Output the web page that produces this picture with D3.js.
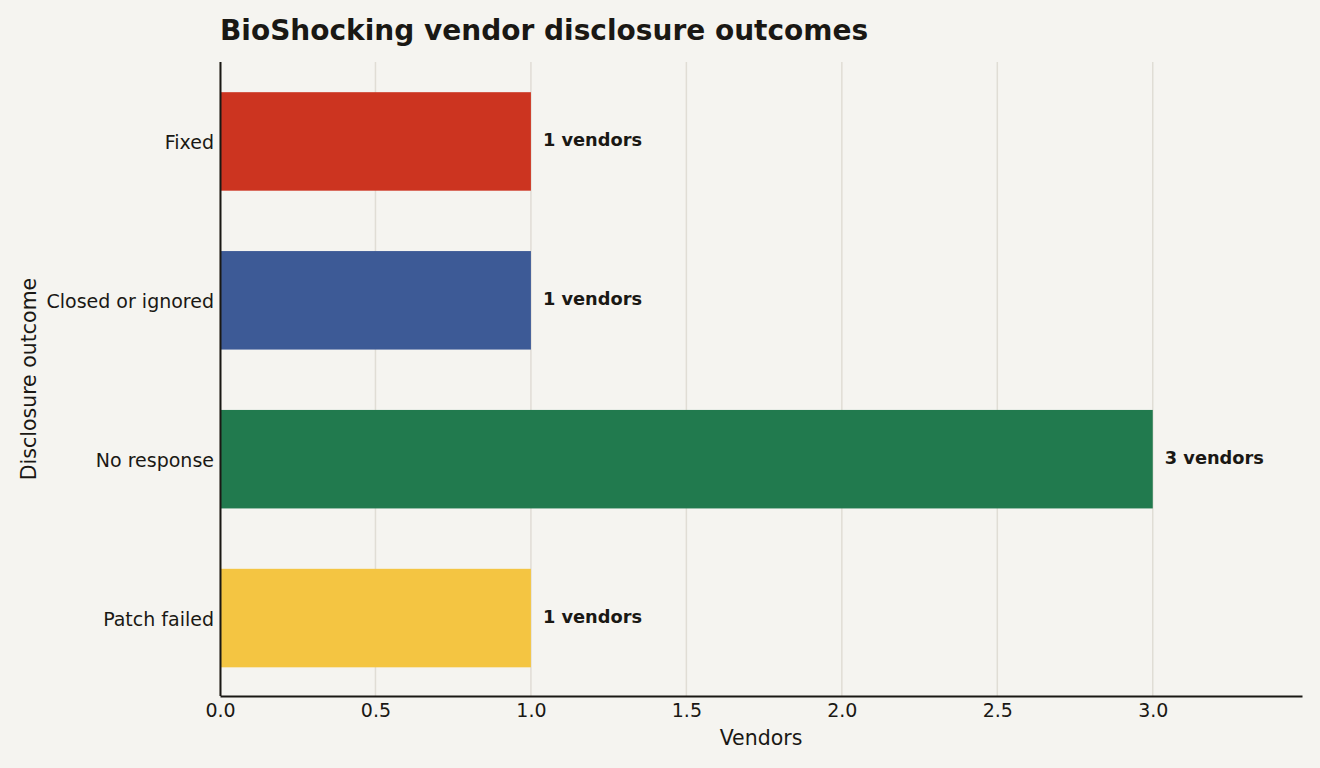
<!DOCTYPE html>
<html>
<head>
<meta charset="utf-8">
<script src="https://cdn.jsdelivr.net/npm/d3@7"></script>
<style>
  body { margin: 0; background: #f5f4f0; }
  svg text { font-family: 'DejaVu Sans', sans-serif; }
</style>
</head>
<body>
<svg id="chart" width="1320" height="768"></svg>
<script>
// data
const outcomes = ['Fixed', 'Closed or ignored', 'No response', 'Patch failed'];
const vendorCounts = [1, 1, 3, 1];
const barColors = ['#cc3420', '#3d5a96', '#217a4e', '#f4c542'];
const xTicks = [0, 0.5, 1, 1.5, 2, 2.5, 3];

const W = 1320, H = 768;
const margin = {top: 62, right: 18, bottom: 72, left: 220};
const ink = '#1a1814';
const FONT = "'DejaVu Sans', sans-serif";

const svg = d3.select('#chart');
svg.append('rect').attr('width', W).attr('height', H).attr('fill', '#f5f4f0');

const x = d3.scaleLinear()
    .domain([0, 3.48])
    .range([margin.left, W - margin.right]);

const y = d3.scaleBand()
    .domain(outcomes)
    .range([margin.top, H - margin.bottom + 1.5])
    .paddingInner(0.38)
    .paddingOuter(0.19);

// gridlines
svg.append('g')
    .selectAll('line')
    .data(xTicks)
    .join('line')
    .attr('x1', d => x(d)).attr('x2', d => x(d))
    .attr('y1', margin.top).attr('y2', H - margin.bottom)
    .attr('stroke', '#e0ddd5')
    .attr('stroke-width', 1.5);

// bars
svg.append('g')
    .selectAll('rect')
    .data(outcomes)
    .join('rect')
    .attr('x', x(0))
    .attr('y', d => y(d))
    .attr('width', (d, i) => x(vendorCounts[i]) - x(0))
    .attr('height', y.bandwidth())
    .attr('fill', (d, i) => barColors[i]);

// value labels
svg.append('g')
    .selectAll('text')
    .data(outcomes)
    .join('text')
    .attr('x', (d, i) => x(vendorCounts[i]) + 12)
    .attr('y', d => y(d) + y.bandwidth() / 2)
    .attr('dy', '0.27em')
    .attr('font-family', FONT)
    .attr('font-size', 17.8)
    .attr('font-weight', 'bold')
    .attr('fill', ink)
    .text((d, i) => `${vendorCounts[i]} vendors`);

// x axis
const xAxis = svg.append('g')
    .attr('transform', `translate(0,${H - margin.bottom})`)
    .call(d3.axisBottom(x).tickValues(xTicks).tickFormat(d3.format('.1f')).tickSize(0).tickPadding(8));
xAxis.attr('font-family', FONT);
xAxis.select('.domain').attr('stroke', ink).attr('stroke-width', 2);
xAxis.selectAll('text').attr('font-size', 19).attr('fill', ink);

// y axis
const yAxis = svg.append('g')
    .attr('transform', `translate(${margin.left},0)`)
    .call(d3.axisLeft(y).tickSize(0).tickPadding(6));
yAxis.attr('font-family', FONT);
yAxis.select('.domain')
    .attr('d', `M0.5,${margin.top}V${H - margin.bottom}`)
    .attr('stroke', ink).attr('stroke-width', 2);
yAxis.selectAll('text').attr('font-size', 19).attr('fill', ink).attr('dy', '0.42em');

// axis titles
svg.append('text')
    .attr('x', (margin.left + W - margin.right) / 2)
    .attr('y', 745)
    .attr('text-anchor', 'middle')
    .attr('font-family', FONT)
    .attr('font-size', 20.5)
    .attr('fill', ink)
    .text('Vendors');

svg.append('text')
    .attr('transform', `translate(36,${(margin.top + H - margin.bottom) / 2}) rotate(-90)`)
    .attr('text-anchor', 'middle')
    .attr('font-family', FONT)
    .attr('font-size', 20.5)
    .attr('fill', ink)
    .text('Disclosure outcome');

// title
svg.append('text')
    .attr('x', margin.left)
    .attr('y', 40)
    .attr('font-family', FONT)
    .attr('font-size', 28)
    .attr('font-weight', 'bold')
    .attr('fill', ink)
    .text('BioShocking vendor disclosure outcomes');
</script>
</body>
</html>
